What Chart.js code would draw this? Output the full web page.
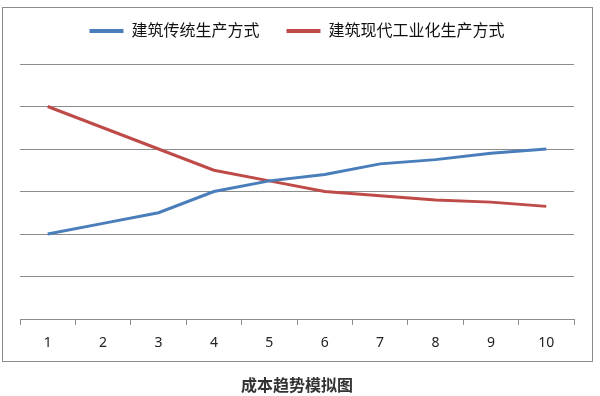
<!DOCTYPE html>
<html>
<head>
<meta charset="utf-8">
<script src="https://cdn.jsdelivr.net/npm/chart.js@4"></script>
<style>
  html, body { margin: 0; padding: 0; background: #fff; }
  #wrap { width: 600px; height: 396px; }
</style>
</head>
<body>
<div id="wrap"><canvas id="myChart" width="600" height="396"></canvas></div>
<script>
'use strict';

// data
const categories = ['1', '2', '3', '4', '5', '6', '7', '8', '9', '10'];
const traditionalCost = [2, 2.25, 2.5, 3, 3.25, 3.4, 3.65, 3.75, 3.9, 4];
const industrialCost = [5, 4.5, 4, 3.5, 3.25, 3, 2.9, 2.8, 2.75, 2.65];
const seriesNames = ['建筑传统生产方式', '建筑现代工业化生产方式'];
const chartTitle = '成本趋势模拟图';

const gridGray = '#8c8c8c';
const fontFamily = "'Noto Sans', 'Noto Sans CJK SC', sans-serif";

// grey frame around plot + legend, like the excel chart
const frameBox = {
  id: 'frameBox',
  beforeDraw(chart) {
    const ctx = chart.ctx;
    ctx.save();
    ctx.fillStyle = '#fff';
    ctx.fillRect(0, 0, chart.width, chart.height);
    ctx.strokeStyle = gridGray;
    ctx.lineWidth = 1;
    ctx.strokeRect(2.5, 7.5, 590, 354);
    ctx.restore();
  }
};

// legend height fixed so the plot starts at the right spot
const legendGap = {
  id: 'legendGap',
  beforeInit(chart) {
    const fit = chart.legend.fit;
    chart.legend.fit = function() {
      fit.bind(chart.legend)();
      this.height = 68;
    };
  }
};

const config = {
  type: 'line',
  data: {
    labels: categories,
    datasets: [{
      label: seriesNames[0],
      data: traditionalCost,
      borderColor: '#4a7ebb',
      backgroundColor: '#4a7ebb',
      borderWidth: 3,
      pointRadius: 0,
      tension: 0
    },
    {
      label: seriesNames[1],
      data: industrialCost,
      borderColor: '#be4b48',
      backgroundColor: '#be4b48',
      borderWidth: 3,
      pointRadius: 0,
      tension: 0
    }]
  },
  options: {
    responsive: false,
    animation: false,
    layout: {
      padding: { top: -4, left: 20, right: 26, bottom: 0 }
    },
    scales: {
      x: {
        offset: true,
        grid: {
          offset: true,
          drawOnChartArea: false,
          drawTicks: true,
          tickLength: 6,
          color: gridGray
        },
        border: { display: true, color: gridGray },
        ticks: {
          color: '#222',
          padding: 10,
          maxRotation: 0,
          font: { family: fontFamily, size: 14 }
        }
      },
      y: {
        min: 0,
        max: 6,
        ticks: { display: false, stepSize: 1 },
        grid: { color: gridGray, drawTicks: false },
        border: { display: false }
      }
    },
    plugins: {
      legend: {
        position: 'top',
        labels: {
          boxWidth: 34,
          boxHeight: 4,
          padding: 27,
          color: '#111',
          font: { family: fontFamily, size: 16 },
          generateLabels(chart) {
            // plain line swatch, no stroke round it
            let items = Chart.defaults.plugins.legend.labels.generateLabels(chart);
            items.forEach(function(item) { item.lineWidth = 0; });
            return items;
          }
        }
      },
      title: {
        display: true,
        text: chartTitle,
        position: 'bottom',
        color: '#333',
        font: { family: fontFamily, size: 16, weight: 'bold' },
        padding: { top: 15, bottom: 0 }
      },
      tooltip: { enabled: false }
    }
  },
  plugins: [frameBox, legendGap]
};

const myChart = new Chart(document.getElementById('myChart'), config);
</script>
</body>
</html>
